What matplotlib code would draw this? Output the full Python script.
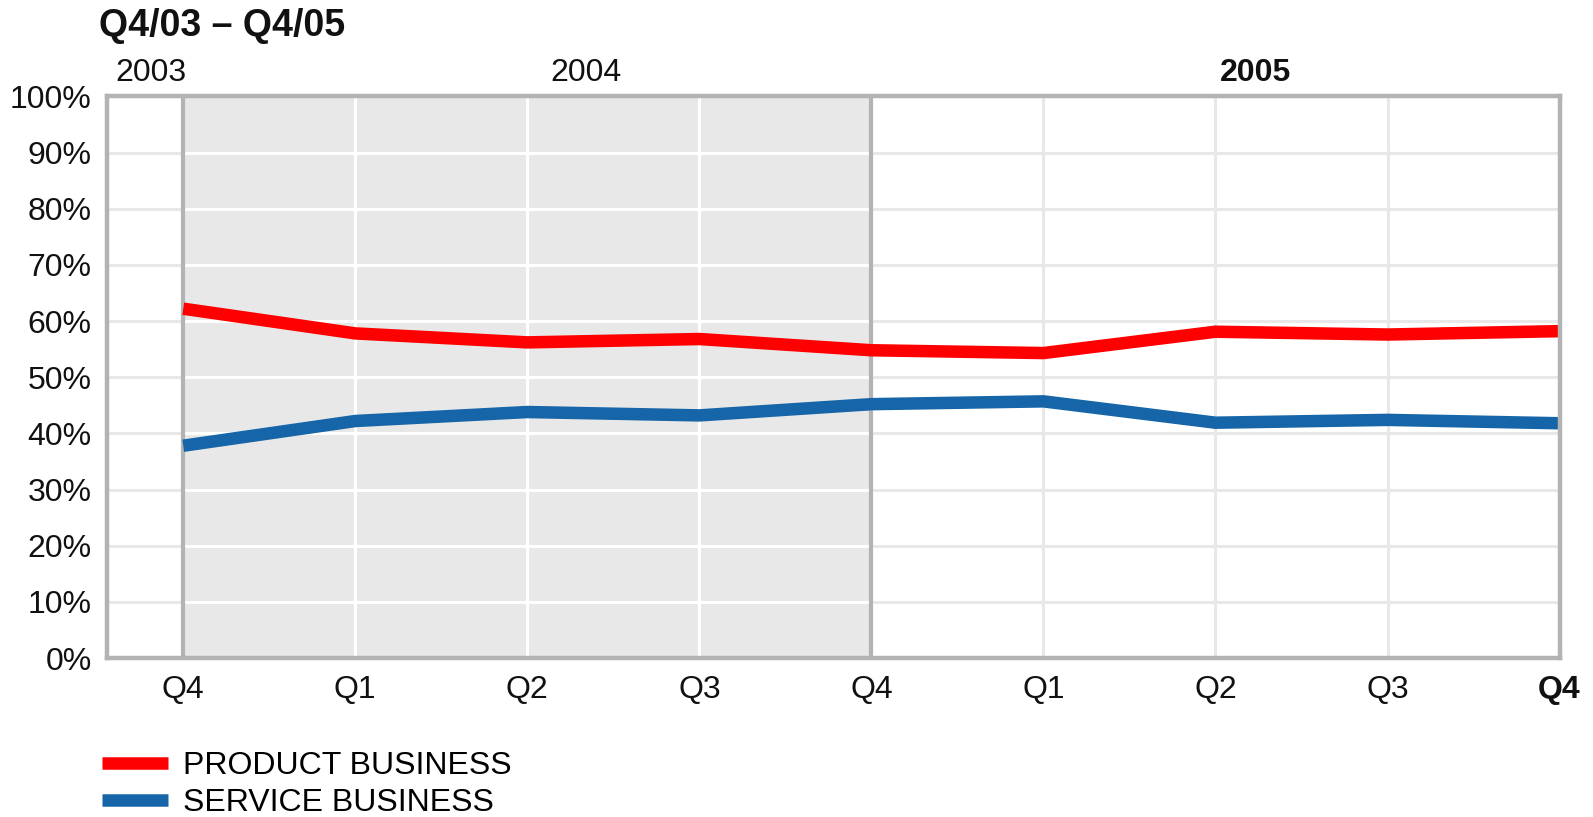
import matplotlib.pyplot as plt

plt.rcParams['font.family'] = ['Liberation Sans', 'DejaVu Sans']

# quarters Q4/03 .. Q4/05
quarters = ['Q4', 'Q1', 'Q2', 'Q3', 'Q4', 'Q1', 'Q2', 'Q3', 'Q4']
product = [62.2, 57.8, 56.2, 56.8, 54.8, 54.3, 58.1, 57.6, 58.2]
service = [37.8, 42.2, 43.8, 43.2, 45.2, 45.7, 41.9, 42.4, 41.8]
years = ['2003', '2004', '2005']
year_pos = [-0.19, 2.34, 6.23]
y_ticks = list(range(0, 101, 10))

x = list(range(len(quarters)))
grey = '#b3b3b3'
light = '#e8e8e8'

fig = plt.figure(figsize=(15.93, 8.17), dpi=100)
ax = fig.add_axes([0.0672, 0.1946, 0.9118, 0.6874])
ax.set_xlim(-0.443, 8)
ax.set_ylim(0, 100)

# shaded 2004 block with white grid, light grey grid elsewhere
ax.axvspan(0, 4, color=light, zorder=0, lw=0)
for y in y_ticks[1:]:
    ax.hlines(y, -0.443, 8, color=light, lw=2.2, zorder=0.5)
    ax.hlines(y, 0, 4, color='white', lw=2.2, zorder=1)
for xi in x:
    c = 'white' if 0 < xi < 4 else light
    ax.vlines(xi, 0, 100, color=c, lw=2.2, zorder=1)
for xi in (0, 4):
    ax.vlines(xi, 0, 100, color=grey, lw=3, zorder=2)

ax.plot(x, product, color='#ff0000', lw=9, zorder=3, label='PRODUCT BUSINESS',
        solid_capstyle='butt')
ax.plot(x, service, color='#1565a8', lw=9, zorder=3, label='SERVICE BUSINESS',
        solid_capstyle='butt')

for s in ax.spines.values():
    s.set_color(grey)
    s.set_linewidth(3.2)
    s.set_zorder(4)

ax.set_yticks(y_ticks)
ax.set_yticklabels([f'{v}%' for v in y_ticks], fontsize=23)
ax.set_xticks(x)
ax.set_xticklabels(quarters, fontsize=23)
ax.get_xticklabels()[-1].set_fontweight('bold')
ax.tick_params(length=0, pad=12, colors='#111111')
ax.tick_params(axis='y', pad=11)

for yr, xp in zip(years, year_pos):
    ax.text(xp, 101.5, yr, fontsize=23, ha='center', va='bottom',
            fontweight='bold' if yr == '2005' else 'normal', color='#111111')

fig.text(0.062, 0.99, 'Q4/03 \u2013 Q4/05', fontsize=27, fontweight='bold',
         ha='left', va='top', color='#111111')

leg = fig.legend(loc='lower left', bbox_to_anchor=(0.046, -0.037), frameon=False,
                 fontsize=23, handlelength=2.05, handletextpad=0.47, labelspacing=0.22)
for line in leg.get_lines():
    line.set_linewidth(9)

fig.savefig('out.png', dpi=100)
